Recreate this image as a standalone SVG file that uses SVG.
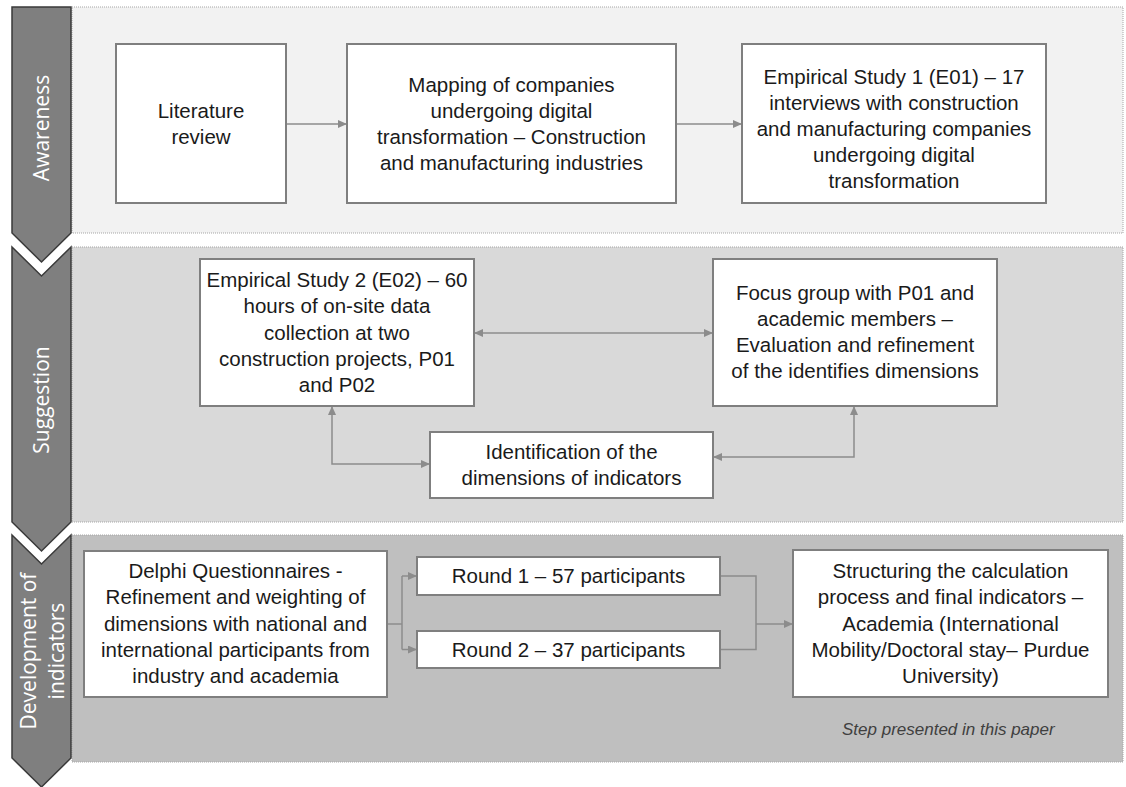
<svg xmlns="http://www.w3.org/2000/svg" width="1126" height="787" viewBox="0 0 1126 787">
<style>
.band{stroke:#a6a6a6;stroke-width:1;stroke-dasharray:1,1}
.chev{fill:#7f7f7f;stroke:#3a3a3a;stroke-width:1.5}
.clbl{font-family:"Open Sans","Liberation Sans",sans-serif;font-size:21px;fill:#ffffff;text-anchor:middle}
.box{fill:#ffffff;stroke:#7f7f7f;stroke-width:2}
.t{font-family:"Liberation Sans",Arial,sans-serif;font-size:20.5px;fill:#1a1a1a;text-anchor:middle}
.con{fill:none;stroke:#8c8c8c;stroke-width:1.5}
.note{font-family:"Liberation Sans",Arial,sans-serif;font-size:17px;font-style:italic;fill:#404040}
</style>
<defs>
<marker id="ah" markerUnits="userSpaceOnUse" markerWidth="10" markerHeight="10" refX="9" refY="4" orient="auto-start-reverse">
<path d="M0,0 L9,4 L0,8 z" fill="#8c8c8c"/>
</marker>
</defs>
<rect width="1126" height="787" fill="#ffffff"/>
<g id="bands">
<rect class="band" x="72" y="7" width="1051" height="226" fill="#f2f2f2"/>
<rect class="band" x="72" y="247" width="1051" height="275" fill="#d9d9d9"/>
<rect class="band" x="72" y="535" width="1051" height="227" fill="#bfbfbf"/>
</g>
<g id="phase-awareness">
<polygon class="chev" points="12,7 71,7 71,233 41.5,262 12,233"/>
<text class="clbl" transform="translate(49,128) rotate(-90)">Awareness</text>
</g>
<g id="phase-suggestion">
<polygon class="chev" points="12,247 41.5,276 71,247 71,522 41.5,551 12,522"/>
<text class="clbl" transform="translate(49,400) rotate(-90)">Suggestion</text>
</g>
<g id="phase-development">
<polygon class="chev" points="12,535 41.5,564 71,535 71,758 41.5,787 12,758"/>
<text class="clbl" transform="translate(36,651) rotate(-90)">Development of</text>
<text class="clbl" transform="translate(64,651) rotate(-90)">indicators</text>
</g>
<g id="connectors">
<line class="con" x1="286" y1="124" x2="347" y2="124" marker-end="url(#ah)"/>
<line class="con" x1="676" y1="124" x2="742" y2="124" marker-end="url(#ah)"/>
<line class="con" x1="474" y1="333" x2="713" y2="333" marker-start="url(#ah)" marker-end="url(#ah)"/>
<polyline class="con" points="332,406 332,464 430,464" marker-start="url(#ah)" marker-end="url(#ah)"/>
<polyline class="con" points="713,457 854,457 854,406" marker-start="url(#ah)" marker-end="url(#ah)"/>
<polyline class="con" points="387,624 402,624"/>
<polyline class="con" points="402,576 402,649.5"/>
<line class="con" x1="402" y1="576" x2="417" y2="576" marker-end="url(#ah)"/>
<line class="con" x1="402" y1="649.5" x2="417" y2="649.5" marker-end="url(#ah)"/>
<polyline class="con" points="720,576 756,576 756,649.5 720,649.5"/>
<line class="con" x1="756" y1="624" x2="793" y2="624" marker-end="url(#ah)"/>
</g>
<g id="literature-review">
<rect class="box" x="116" y="44" width="170" height="159"/>
<text class="t" x="201" y="118">Literature</text>
<text class="t" x="201" y="144">review</text>
</g>
<g id="mapping">
<rect class="box" x="347" y="44" width="329" height="159"/>
<text class="t" x="511.5" y="92">Mapping of companies</text>
<text class="t" x="511.5" y="118">undergoing digital</text>
<text class="t" x="511.5" y="144">transformation – Construction</text>
<text class="t" x="511.5" y="170">and manufacturing industries</text>
</g>
<g id="empirical-study-1">
<rect class="box" x="742" y="44" width="304" height="159"/>
<text class="t" x="894" y="84">Empirical Study 1 (E01) – 17</text>
<text class="t" x="894" y="110">interviews with construction</text>
<text class="t" x="894" y="136">and manufacturing companies</text>
<text class="t" x="894" y="162">undergoing digital</text>
<text class="t" x="894" y="188">transformation</text>
</g>
<g id="empirical-study-2">
<rect class="box" x="200" y="259" width="274" height="147"/>
<text class="t" x="337" y="287">Empirical Study 2 (E02) – 60</text>
<text class="t" x="337" y="313">hours of on-site data</text>
<text class="t" x="337" y="340">collection at two</text>
<text class="t" x="337" y="366">construction projects, P01</text>
<text class="t" x="337" y="392">and P02</text>
</g>
<g id="focus-group">
<rect class="box" x="713" y="259" width="284" height="147"/>
<text class="t" x="855" y="300">Focus group with P01 and</text>
<text class="t" x="855" y="326">academic members –</text>
<text class="t" x="855" y="352">Evaluation and refinement</text>
<text class="t" x="855" y="378">of the identifies dimensions</text>
</g>
<g id="identification">
<rect class="box" x="430" y="432" width="283" height="66"/>
<text class="t" x="571.5" y="459">Identification of the</text>
<text class="t" x="571.5" y="485">dimensions of indicators</text>
</g>
<g id="delphi">
<rect class="box" x="84" y="551" width="303" height="146"/>
<text class="t" x="235.5" y="578">Delphi Questionnaires -</text>
<text class="t" x="235.5" y="604">Refinement and weighting of</text>
<text class="t" x="235.5" y="631">dimensions with national and</text>
<text class="t" x="235.5" y="657">international participants from</text>
<text class="t" x="235.5" y="683">industry and academia</text>
</g>
<g id="round-1">
<rect class="box" x="417" y="557" width="303" height="38"/>
<text class="t" x="568.5" y="583">Round 1 – 57 participants</text>
</g>
<g id="round-2">
<rect class="box" x="417" y="631" width="303" height="37"/>
<text class="t" x="568.5" y="656.5">Round 2 – 37 participants</text>
</g>
<g id="structuring">
<rect class="box" x="793" y="550" width="315" height="147"/>
<text class="t" x="950.5" y="578">Structuring the calculation</text>
<text class="t" x="950.5" y="604">process and final indicators –</text>
<text class="t" x="950.5" y="631">Academia (International</text>
<text class="t" x="950.5" y="657">Mobility/Doctoral stay– Purdue</text>
<text class="t" x="950.5" y="683">University)</text>
</g>
<text class="note" x="842" y="735">Step presented in this paper</text>
</svg>
